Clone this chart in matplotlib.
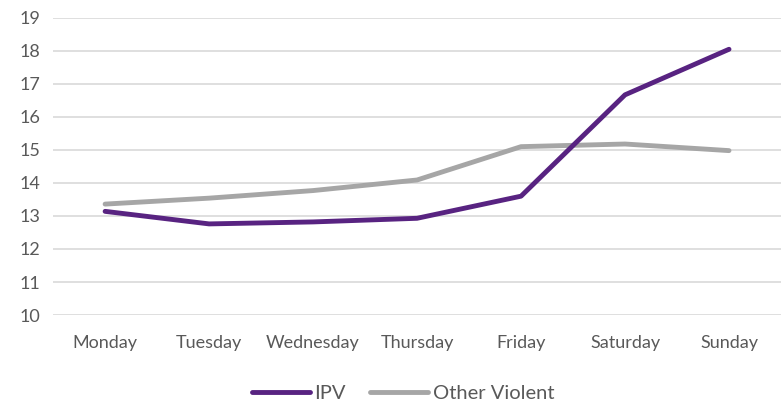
import matplotlib
matplotlib.use("Agg")
import matplotlib.pyplot as plt

days = ["Monday", "Tuesday", "Wednesday", "Thursday", "Friday", "Saturday", "Sunday"]
ipv = [13.14, 12.76, 12.82, 12.93, 13.60, 16.67, 18.05]
other_violent = [13.36, 13.54, 13.77, 14.09, 15.10, 15.18, 14.98]
yticks = list(range(10, 20))

plt.rcParams['font.family'] = ['Lato', 'DejaVu Sans']
txt = '#595959'

fig = plt.figure(figsize=(7.81, 4.07), dpi=100)
ax = fig.add_axes([0.068, 0.226, 0.932, 0.730])
x = list(range(len(days)))
ax.plot(x, ipv, color='#582381', lw=3.5, solid_capstyle='round', label='IPV', zorder=3)
ax.plot(x, other_violent, color='#a6a6a6', lw=3.5, solid_capstyle='round', label='Other Violent', zorder=2)

ax.set_xlim(-0.5, len(days) - 0.5)
ax.set_ylim(10, 19)
ax.set_yticks(yticks)
ax.set_xticks(x)
ax.set_xticklabels(days)
ax.grid(axis='y', color='#d9d9d9', lw=1.2)
ax.set_axisbelow(True)
for s in ax.spines.values():
    s.set_visible(False)
ax.tick_params(axis='both', length=0, colors=txt, labelsize=13)
ax.tick_params(axis='x', pad=14.5)
ax.tick_params(axis='y', pad=9)

leg = fig.legend(loc='center', bbox_to_anchor=(0.516, 0.033), ncol=2, frameon=False,
                 fontsize=14.5, handlelength=2.9, handletextpad=0.2, columnspacing=1.2)
for t in leg.get_texts():
    t.set_color(txt)

fig.savefig('out.png', dpi=100)
